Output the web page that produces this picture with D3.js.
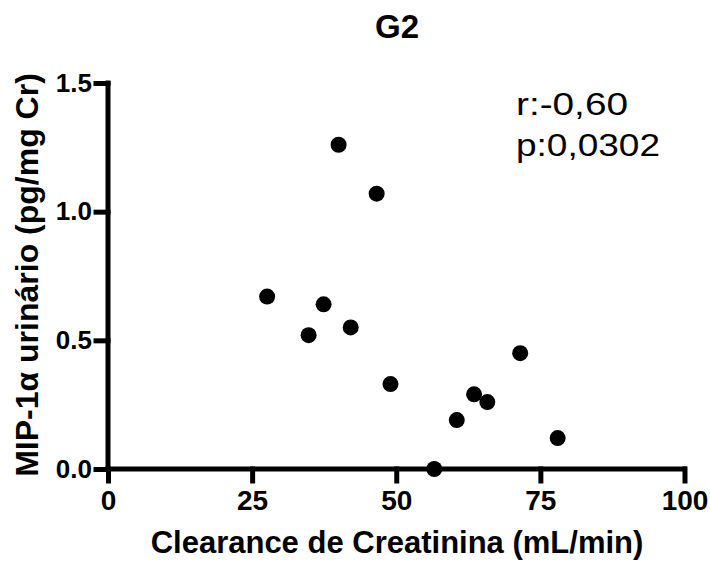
<!DOCTYPE html>
<html lang="en">
<head>
    <meta charset="utf-8">
    <title>G2</title>
    <script type="text/javascript" src="https://d3js.org/d3.v7.min.js"></script>
    <style>
        body { margin: 0; background: #fff; }
        text { font-family: "Liberation Sans", Arial, sans-serif; fill: #000; }
    </style>
</head>
<body>
    <div id="container"></div>
    <script type="text/javascript">
        // data
        var clearance = [27.6, 34.8, 37.4, 40.0, 42.1, 46.6, 49.0, 56.6, 60.5, 63.5, 65.8, 71.5, 78.0];
        var mip1a = [0.67, 0.52, 0.64, 1.26, 0.55, 1.07, 0.33, 0.00, 0.19, 0.29, 0.26, 0.45, 0.12];
        var xTicks = [0, 25, 50, 75, 100];
        var yTicks = [0, 0.5, 1.0, 1.5];
        var stats = ["r:-0,60", "p:0,0302"];

        var w = 710;
        var h = 563;
        const svg = d3.select("div#container")
            .append("svg")
            .attr("width", w)
            .attr("height", h);

        var x = d3.scaleLinear().domain([0, 100]).range([108, 684.5]);
        var y = d3.scaleLinear().domain([0, 1.5]).range([469, 83]);

        // x axis
        var xAxis = svg.append("g")
            .attr("transform", "translate(0," + y(0) + ")")
            .call(d3.axisBottom(x).tickValues(xTicks).tickSize(12).tickPadding(9).tickFormat(d3.format("d")));
        xAxis.select(".domain").attr("d", "M" + x(0) + ",0H" + x(100));
        xAxis.selectAll("line, path")
            .style("stroke", "#000")
            .style("stroke-width", "5px")
            .style("stroke-linecap", "square");
        xAxis.selectAll("text")
            .style("font-family", "'Liberation Sans', Arial, sans-serif")
            .style("font-weight", "bold")
            .style("font-size", "28px");

        // y axis
        var yAxis = svg.append("g")
            .attr("transform", "translate(" + x(0) + ",0)")
            .call(d3.axisLeft(y).tickValues(yTicks).tickSize(12).tickPadding(4).tickFormat(d3.format(".1f")));
        yAxis.select(".domain").attr("d", "M0," + y(1.5) + "V" + y(0));
        yAxis.selectAll("line, path")
            .style("stroke", "#000")
            .style("stroke-width", "5px")
            .style("stroke-linecap", "square");
        yAxis.selectAll("text")
            .style("font-family", "'Liberation Sans', Arial, sans-serif")
            .style("font-weight", "bold")
            .style("font-size", "26px");

        // points
        svg.selectAll("circle")
            .data(clearance)
            .enter()
            .append("circle")
            .attr("cx", (d) => x(d))
            .attr("cy", (d, i) => y(mip1a[i]))
            .attr("r", 8)
            .attr("fill", "#000");

        // title
        svg.append("text")
            .attr("x", 397)
            .attr("y", 38)
            .attr("text-anchor", "middle")
            .style("font-weight", "bold")
            .style("font-size", "33px")
            .text("G2");

        // axis labels
        svg.append("text")
            .attr("x", 397)
            .attr("y", 553)
            .attr("text-anchor", "middle")
            .style("font-weight", "bold")
            .style("font-size", "31px")
            .text("Clearance de Creatinina (mL/min)");

        svg.append("text")
            .attr("transform", "translate(38,275) rotate(-90)")
            .attr("text-anchor", "middle")
            .style("font-weight", "bold")
            .style("font-size", "32px")
            .text("MIP-1α urinário (pg/mg Cr)");

        // stats
        var statWidths = [112, 144];
        svg.selectAll("text.stat")
            .data(stats)
            .enter()
            .append("text")
            .attr("class", "stat")
            .attr("x", 516)
            .attr("y", (d, i) => 115 + i * 41)
            .attr("textLength", (d, i) => statWidths[i])
            .attr("lengthAdjust", "spacingAndGlyphs")
            .style("font-size", "31px")
            .text((d) => d);
    </script>
</body>
</html>
